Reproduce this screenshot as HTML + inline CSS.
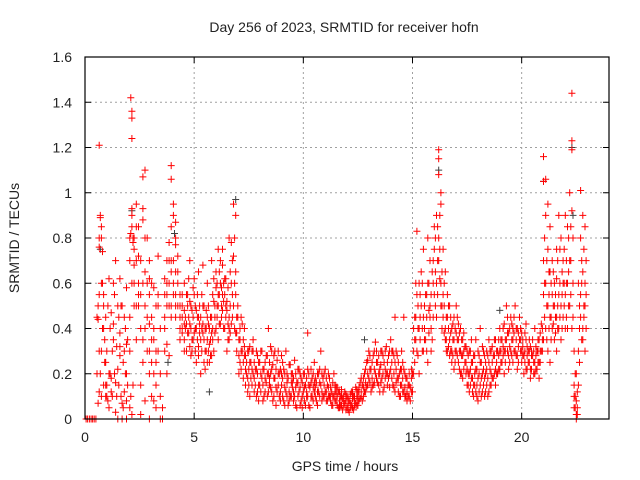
<!DOCTYPE html>
<html><head><meta charset="utf-8"><style>
html,body{margin:0;padding:0;background:#fff;}
svg{display:block;font-family:"Liberation Sans",sans-serif;}
</style></head><body>
<svg id="chart" width="640" height="480" viewBox="0 0 640 480">
<rect width="640" height="480" fill="#fff"/>
<text x="344" y="32" text-anchor="middle" font-size="14" fill="#222">Day 256 of 2023, SRMTID for receiver hofn</text>
<text transform="translate(19,238) rotate(-90)" text-anchor="middle" font-size="14" fill="#222">SRMTID / TECUs</text>
<text x="345" y="471" text-anchor="middle" font-size="14" fill="#222">GPS time / hours</text>
<g id="grid"></g>
<g id="axes"></g>
<g id="grayseries"></g>
<g id="redseries"></g>
<rect x="85" y="57" width="524" height="362" fill="none" stroke="#000" stroke-width="1.2"/>
</svg>
<script>
const xTicks=[0,5,10,15,20];
const yTicks=[0,0.2,0.4,0.6,0.8,1,1.2,1.4,1.6];
const yTickLabels=["0","0.2","0.4","0.6","0.8","1","1.2","1.4","1.6"];
const hours=[0.05,0.12,0.2,0.28,0.35,0.42,0.5,
0.6,0.65,0.7,0.75,0.8,0.85,0.9,0.95,
1.0,1.1,1.2,1.3,1.4,1.5,1.6,1.7,1.8,1.9,
2.05,2.1,2.15,2.2,2.25,
2.35,2.45,2.55,2.65,2.75,2.85,2.95,3.05,3.15,3.25,3.35,3.45,
3.65,3.75,3.85,3.95,4.05,4.15,4.25,4.35,4.45,4.55,
4.6,4.7,4.8,4.9,5.0,5.1,5.2,5.3,5.4,5.5,5.6,5.7,5.8,5.9,6.0,6.1,6.2,6.3,6.4,6.5,6.6,6.7,6.8,6.9,7.0,
7.1,7.2,7.3,7.4,7.5,7.6,7.7,7.8,7.9,
8.0,8.1,8.2,8.3,8.4,8.5,8.6,8.7,8.8,8.9,9.0,9.1,9.2,9.3,9.4,9.5,9.6,9.7,9.8,9.9,
10.0,10.1,10.2,10.3,10.4,10.5,10.6,10.7,10.8,10.9,11.0,11.1,11.2,11.3,11.4,11.5,11.6,11.7,11.8,11.9,
12.0,12.1,12.2,12.3,12.4,12.5,12.6,12.7,12.8,12.9,13.0,13.1,13.2,13.3,13.4,13.5,13.6,13.7,13.8,13.9,
14.0,14.1,14.2,14.3,14.4,14.5,14.6,14.7,14.8,14.9,15.0,
15.1,15.2,15.3,15.4,15.5,15.6,15.7,15.8,15.9,16.0,16.1,16.2,16.3,16.4,16.5,16.6,16.7,16.8,16.9,17.0,17.1,17.2,17.3,17.4,17.5,
17.6,17.7,17.8,17.9,18.0,18.1,18.2,18.3,18.4,18.5,18.6,18.7,18.8,18.9,
19.0,19.1,19.2,19.3,19.4,19.5,19.6,19.7,19.8,19.9,20.0,20.1,20.2,20.3,20.4,20.5,20.6,20.7,20.8,20.9,
21.0,21.1,21.2,21.3,21.4,21.5,21.6,21.7,21.8,21.9,22.0,22.1,22.2,22.3,22.4,22.5,22.6,22.7,22.8,22.9];
const srmtid=[[0],[0],[0],[0],[0],[0],[0],
[0.44,0.5,0.07],[1.21,0.76,0.3,0.12],[0.89,0.9,0.2],[0.85,0.8,0.1],[0.74,0.6,0.4],[0.55,0.5],[0.35,0.25],[0.15,0.45],
[0.3,0.15,0.1],[0.05,0.2,0.62],[0.47,0.18,0.12],[0.6,0.35,0.42],[0.03,0.7,0.16],[0.5,0.22,0.0],[0.62,0.38,0.28,0.32],[0.07,0.0,0.5],[0.3,0.45,0.12],[0.0,0.2,0.58,0.08,0.33],
[0.7,0.05,0.3],[1.42,0.82,0.1],[1.36,1.33,1.24,0.93,0.9,0.02],[0.78,0.8,0.15],[0.75,0.68,0.5],
[0.95,0.85,0.35],[0.72,0.5,0.6],[0.55,0.02,0.15],[1.07,0.93,0.88,0.25],[0.5,0.4,1.1,0.8,0.08],[0.45,0.3,0.6],[0.2,0.62,0.7,0.42,0.0],[0.1,0.25,0.45],[0.58,0.35,0.08],[0.15,0.05,0.3],[0.72,0.5],[0.2,0.0],
[0.62,0.55,0.4],[0.5,0.6,0.33,0.2],[0.7,0.78,0.28],[0.85,1.12,1.06,0.45,0.65],[0.95,0.9,0.55],[0.87,0.77,0.8,0.45,0.5],[0.72,0.65,0.6],[0.55,0.5,0.35],[0.45,0.38,0.55],[0.42,0.3],
[0.4,0.45],[0.38,0.5,0.55],[0.52,0.42,0.32,0.7],[0.35,0.3,0.48],[0.55,0.62,0.38],[0.48,0.4,0.25],[0.32,0.28,0.45,0.65],[0.35,0.45,0.2],[0.5,0.42,0.38,0.68],[0.3,0.22,0.4],[0.25,0.35,0.45,0.6],[0.4,0.33,0.25],[0.28,0.45,0.38,0.7],[0.52,0.62,0.3],[0.58,0.65,0.4],[0.55,0.5,0.35,0.75],[0.6,0.7,0.42],[0.75,0.68,0.48,0.55],[0.62,0.55,0.4],[0.48,0.52,0.3],[0.45,0.4,0.35,0.8],[0.6,0.78,0.42],[0.72,0.95,0.5],[0.9,0.65,0.55,0.38],[0.5,0.45],
[0.4,0.35,0.25],[0.42,0.3],[0.28,0.32,0.4],[0.25,0.2],[0.3,0.22,0.15],[0.18,0.25],[0.2,0.3,0.35],[0.22,0.15],[0.28,0.2,0.12],
[0.25,0.15],[0.3,0.18],[0.22,0.1],[0.28,0.16],[0.2,0.12,0.4],[0.32,0.14,0.2],[0.24,0.08],[0.18,0.3],[0.26,0.12],[0.2,0.1],[0.15,0.28,0.2],[0.22,0.08],[0.12,0.3],[0.18,0.06],[0.24,0.1],[0.14,0.2,0.16],[0.1,0.26],[0.16,0.05],[0.22,0.12],[0.08,0.18],
[0.12,0.2],[0.06,0.15],[0.1,0.22,0.38],[0.14,0.05],[0.18,0.1],[0.12,0.25,0.16],[0.08,0.16],[0.2,0.12],[0.15,0.3],[0.1,0.18],[0.22,0.12],[0.15,0.08],[0.18,0.1],[0.12,0.06],[0.1,0.2],[0.08,0.14,0.12],[0.12,0.05],[0.06,0.1],[0.09,0.04],[0.07,0.12],
[0.05,0.1],[0.08,0.03],[0.06,0.12],[0.1,0.04],[0.07,0.14],[0.12,0.06,0.09],[0.09,0.16],[0.15,0.08],[0.2,0.12],[0.25,0.14],[0.18,0.3],[0.22,0.12],[0.28,0.15],[0.2,0.34],[0.16,0.25],[0.22,0.12,0.2],[0.3,0.18],[0.25,0.14],[0.2,0.32],[0.28,0.18],
[0.22,0.35],[0.3,0.15],[0.25,0.12,0.45],[0.18,0.28],[0.2,0.1],[0.15,0.3,0.22],[0.12,0.22,0.45],[0.18,0.1],[0.1,0.15],[0.14,0.08],[0.12,0.2],
[0.25,0.35,0.45],[0.55,0.3,0.83],[0.6,0.2,0.4],[0.65,0.5],[0.3,0.45,0.75],[0.55,0.35],[0.6,0.8,0.25],[0.5,0.45,0.7],[0.65,0.35],[0.75,0.85,0.55],[0.9,0.6,0.45],[1.19,1.15,1.08,0.8,0.7],[1.0,0.95,0.5,0.6],[0.75,0.55,0.45],[0.65,0.4,0.35],[0.45,0.3,0.55],[0.35,0.5,0.28],[0.4,0.3,0.25],[0.45,0.35,0.22],[0.38,0.3,0.5],[0.35,0.25,0.42],[0.3,0.4,0.2],[0.28,0.35,0.18],[0.25,0.32],[0.22,0.3,0.15],
[0.2,0.3,0.12],[0.35,0.18,0.25],[0.15,0.28,0.1],[0.22,0.35,0.12],[0.3,0.18,0.08],[0.25,0.15,0.4],[0.12,0.2,0.32],[0.18,0.1,0.28],[0.3,0.15,0.22],[0.25,0.12,0.35],[0.2,0.3,0.15],[0.28,0.18],[0.35,0.22,0.15],[0.3,0.2],
[0.3,0.4,0.22],[0.35,0.25],[0.42,0.3,0.2],[0.5,0.35],[0.28,0.38,0.22],[0.45,0.3],[0.35,0.25,0.4],[0.3,0.5],[0.4,0.28,0.22],[0.35,0.45],[0.3,0.38,0.25],[0.28,0.2],[0.35,0.42,0.22],[0.3,0.25],[0.22,0.32,0.18],[0.28,0.35],[0.25,0.2,0.4],[0.3,0.22],[0.35,0.25,0.18],[0.42,0.3],
[1.16,1.05,0.55,0.35,0.7],[1.06,0.9,0.4,0.6],[0.95,0.5,0.3,0.75],[0.65,0.45,0.25,0.85],[0.55,0.4,0.7],[0.6,0.35,0.5],[0.75,0.45,0.3,0.62],[0.55,0.4,0.9],[0.8,0.5,0.35],[0.7,0.45,0.6],[0.9,0.55,0.4],[0.6,0.4,0.85],[1.0,0.7,0.5],[1.44,1.23,1.19,0.92,0.4],[0.3,0.15,0.1,0.05],[0.2,0.0,0.08,0.02],[0.15,0.3,0.6],[0.8,1.01,0.45,0.55],[0.9,0.65,0.4,0.35],[0.6,0.5,0.85,0.3]];
const hoursExtra=[0.55,0.65,0.75,0.85,0.95,1.05,1.15,1.25,1.35,1.45,1.55,1.65,1.75,1.85,1.95,2.05,2.15,2.25,2.35,2.45,2.55,2.65,2.75,2.85,2.95,3.05,3.15,3.25,3.35,3.45,3.55,3.65,3.75,3.85,3.95,
4.05,4.15,4.25,4.35,4.45,
4.55,4.65,4.75,4.85,4.95,5.05,5.15,5.25,5.35,5.45,5.55,5.65,5.75,5.85,5.95,6.05,6.15,6.25,6.35,6.45,6.55,6.65,6.75,6.85,6.95,
7.05,7.15,7.25,7.35,7.45,7.55,7.65,7.75,7.85,7.95,
8.05,8.15,8.25,8.35,8.45,8.55,8.65,8.75,8.85,8.95,9.05,9.15,9.25,9.35,9.45,9.55,9.65,9.75,9.85,9.95,
10.05,10.15,10.25,10.35,10.45,10.55,10.65,10.75,10.85,10.95,11.05,11.15,11.25,11.35,11.45,11.55,11.65,11.75,11.85,11.95,
12.05,12.15,12.25,12.35,12.45,12.55,12.65,12.75,12.85,12.95,13.05,13.15,13.25,13.35,13.45,13.55,13.65,13.75,13.85,13.95,
14.05,14.15,14.25,14.35,14.45,14.55,14.65,14.75,14.85,14.95,
15.05,15.15,15.25,15.35,15.45,15.55,15.65,15.75,15.85,15.95,16.05,16.15,16.25,16.35,16.45,16.55,16.65,16.75,16.85,16.95,17.05,17.15,17.25,17.35,17.45,
17.55,17.65,17.75,17.85,17.95,18.05,18.15,18.25,18.35,18.45,18.55,18.65,18.75,18.85,18.95,
19.05,19.15,19.25,19.35,19.45,19.55,19.65,19.75,19.85,19.95,20.05,20.15,20.25,20.35,20.45,20.55,20.65,20.75,20.85,20.95,
21.05,21.15,21.25,21.35,21.45,21.55,21.65,21.75,21.85,21.95,22.05,22.15,22.25,22.35,22.45,22.55,22.65,22.75,22.85,22.95];
const srmtidExtra=[[0.45,0.2],[0.8,0.55],[0.6,0.3],[0.4,0.15],[0.25,0.1],[0.5,0.08],[0.2,0.4],[0.1,0.3],[0.2,0.55],[0.32,0.1],[0.45,0.15],[0.5,0.1],[0.25,0.05],[0.4,0.2],[0.35,0.15],[0.8,0.45],[0.85,0.6],[0.6,0.8],[0.5,0.7],[0.55,0.85],[0.4,0.7],[0.6,0.35],[0.5,0.65],[0.45,0.8],[0.55,0.3],[0.35,0.6],[0.4,0.2],[0.5,0.25],[0.3,0.55],[0.4,0.1],[0.0,0.05],[0.45,0.3],[0.55,0.7],[0.6,0.5],[0.7,0.5],
[0.7,0.6],[0.65,0.55],[0.5,0.6],[0.45,0.4],[0.4,0.5],
[0.35,0.48,0.6],[0.42,0.3,0.55],[0.45,0.38,0.62],[0.4,0.5,0.28],[0.45,0.35,0.58],[0.4,0.5,0.3],[0.35,0.55,0.45],[0.38,0.5,0.42],[0.3,0.4,0.55],[0.35,0.25,0.5],[0.4,0.3,0.48],[0.3,0.42,0.5],[0.35,0.45,0.28],[0.4,0.35,0.55],[0.45,0.38,0.5],[0.5,0.45,0.6],[0.55,0.42,0.65],[0.5,0.58,0.45],[0.6,0.52,0.4],[0.5,0.45,0.62],[0.42,0.58,0.35],[0.5,0.38,0.65],[0.45,0.55,0.7],[0.6,0.4,0.8],[0.45,0.38,0.3],
[0.35,0.28,0.2],[0.3,0.22,0.45],[0.25,0.35,0.18],[0.22,0.28,0.15],[0.3,0.18,0.12],[0.25,0.32,0.1],[0.15,0.22,0.3],[0.18,0.25,0.12],[0.22,0.3,0.1],[0.15,0.25,0.08],
[0.2,0.12,0.3],[0.22,0.15,0.08],[0.18,0.25,0.12],[0.2,0.1,0.28],[0.15,0.25,0.18],[0.22,0.12,0.3],[0.18,0.28,0.1],[0.14,0.22,0.06],[0.2,0.15,0.3],[0.12,0.22,0.08],[0.18,0.1,0.25],[0.14,0.2,0.06],[0.2,0.1,0.16],[0.12,0.24,0.08],[0.16,0.1,0.2],[0.08,0.18,0.12],[0.14,0.2,0.06],[0.1,0.16,0.22],[0.14,0.06,0.2],[0.1,0.16,0.05],
[0.14,0.08,0.2],[0.1,0.18,0.12],[0.15,0.06,0.2],[0.1,0.16,0.22],[0.14,0.08,0.2],[0.18,0.1,0.14],[0.12,0.2,0.06],[0.16,0.1,0.22],[0.12,0.2,0.08],[0.15,0.1,0.2],[0.12,0.18,0.08],[0.14,0.1,0.2],[0.08,0.14,0.1],[0.1,0.16,0.06],[0.12,0.08,0.15],[0.06,0.1,0.14],[0.08,0.12,0.05],[0.1,0.06,0.13],[0.06,0.1,0.08],[0.08,0.04,0.11],
[0.06,0.09,0.04],[0.07,0.11,0.05],[0.09,0.05,0.12],[0.06,0.1,0.08],[0.1,0.06,0.13],[0.08,0.12,0.14],[0.12,0.1,0.18],[0.14,0.18,0.1],[0.16,0.22,0.12],[0.2,0.15,0.26],[0.22,0.16,0.28],[0.18,0.25,0.14],[0.22,0.3,0.16],[0.25,0.18,0.3],[0.2,0.28,0.15],[0.24,0.16,0.3],[0.2,0.28,0.12],[0.22,0.18,0.3],[0.25,0.15,0.2],[0.2,0.3,0.14],
[0.25,0.18,0.3],[0.2,0.28,0.14],[0.22,0.16,0.3],[0.18,0.25,0.12],[0.15,0.22,0.1],[0.18,0.12,0.25],[0.14,0.2,0.1],[0.12,0.18,0.08],[0.15,0.1,0.2],[0.12,0.18,0.22],
[0.3,0.4,0.2],[0.45,0.35,0.6],[0.4,0.5,0.28],[0.35,0.55,0.45],[0.4,0.3,0.6],[0.5,0.4,0.35],[0.45,0.55,0.3],[0.38,0.48,0.6],[0.55,0.4,0.3],[0.6,0.45,0.7],[0.65,0.8,0.5],[0.85,0.7,0.55],[0.9,0.75,0.62],[0.65,0.5,0.4],[0.5,0.38,0.6],[0.45,0.35,0.3],[0.4,0.32,0.5],[0.38,0.3,0.45],[0.35,0.28,0.42],[0.3,0.4,0.25],[0.35,0.28,0.45],[0.3,0.38,0.22],[0.28,0.35,0.2],[0.3,0.22,0.38],[0.25,0.2,0.32],
[0.2,0.28,0.15],[0.22,0.15,0.3],[0.18,0.25,0.12],[0.2,0.15,0.28],[0.15,0.22,0.1],[0.2,0.12,0.28],[0.18,0.1,0.25],[0.15,0.22,0.3],[0.2,0.12,0.25],[0.18,0.28,0.1],[0.22,0.15,0.3],[0.25,0.18,0.32],[0.2,0.28,0.35],[0.25,0.3,0.2],[0.28,0.35,0.22],
[0.3,0.35,0.25],[0.32,0.4,0.28],[0.35,0.3,0.25],[0.38,0.3,0.45],[0.32,0.4,0.25],[0.35,0.28,0.42],[0.3,0.38,0.45],[0.35,0.28,0.4],[0.32,0.38,0.25],[0.3,0.4,0.35],[0.28,0.35,0.32],[0.3,0.25,0.38],[0.28,0.32,0.22],[0.25,0.3,0.35],[0.28,0.22,0.3],[0.25,0.3,0.2],[0.28,0.22,0.32],[0.25,0.3,0.35],[0.3,0.38,0.25],[0.35,0.4,0.3],
[0.45,0.6,0.8],[0.5,0.7,0.35],[0.55,0.4,0.65],[0.45,0.6,0.35],[0.5,0.65,0.42],[0.45,0.55,0.38],[0.5,0.7,0.4],[0.6,0.45,0.75],[0.55,0.65,0.4],[0.5,0.75,0.6],[0.6,0.45,0.7],[0.5,0.65,0.8],[0.7,0.55,0.85],[0.6,0.45,0.8],[0.2,0.1,0.05],[0.05,0.12,0.02],[0.4,0.5,0.25],[0.6,0.7,0.35],[0.5,0.75,0.45],[0.55,0.4,0.7]];
const grayHours=[0.7,2.15,3.8,4.1,5.7,6.9,12.8,16.2,19.0,21.0,22.3,22.35];
const graySrmtid=[0.75,0.92,0.25,0.82,0.12,0.97,0.35,1.1,0.48,1.05,1.2,0.9];

const X0=85,X1=609,Y0=419,Y1=57,XMAX=24,YMAX=1.6;
function sx(h){return X0+(X1-X0)*h/XMAX;}
function sy(v){return Y0-(Y0-Y1)*v/YMAX;}
const NS="http://www.w3.org/2000/svg";
function mk(tag,attrs,parent){const e=document.createElementNS(NS,tag);for(const k in attrs)e.setAttribute(k,attrs[k]);parent.appendChild(e);return e;}
const grid=document.getElementById('grid'),axes=document.getElementById('axes');
yTicks.forEach((t,i)=>{
  const y=sy(t);
  if(t>0&&t<YMAX){const g=mk('line',{x1:X0,x2:X1,y1:y,y2:y,stroke:'#a0a0a0','stroke-dasharray':'2,3','stroke-width':1},grid);
  
  }
  const tk=mk('path',{d:`M${X0},${y}h6M${X1},${y}h-6`,stroke:'#000','stroke-width':1},axes);
  
  
  const lb=mk('text',{x:X0-13,y:y+5,'text-anchor':'end','font-size':14,fill:'#222'},axes);
  lb.textContent=yTickLabels[i];
  
  
});
xTicks.forEach(t=>{
  const x=sx(t);
  if(t>0){const g=mk('line',{x1:x,x2:x,y1:Y0,y2:Y1,stroke:'#a0a0a0','stroke-dasharray':'2,3','stroke-width':1},grid);
  
  }
  const tk=mk('path',{d:`M${x},${Y0}v-6M${x},${Y1}v6`,stroke:'#000','stroke-width':1},axes);
  
  
  const lb=mk('text',{x:x,y:Y0+23,'text-anchor':'middle','font-size':14,fill:'#222'},axes);
  lb.textContent=String(t);
  
  
});
function plus(x,y){return `M${(x-3.5).toFixed(1)},${y.toFixed(1)}h7M${x.toFixed(1)},${(y-3.5).toFixed(1)}v7`;}
let gd='';
grayHours.forEach((h,i)=>{gd+=plus(sx(h),sy(graySrmtid[i]));});
const gp=mk('path',{d:gd,stroke:'#404040','stroke-width':1,fill:'none'},document.getElementById('grayseries'));


let rd='';
hours.forEach((h,i)=>{(srmtid[i]||[]).forEach(v=>{rd+=plus(sx(h),sy(v));});});
hoursExtra.forEach((h,i)=>{(srmtidExtra[i]||[]).forEach(v=>{rd+=plus(sx(h),sy(v));});});
const rp=mk('path',{d:rd,stroke:'#ff0000','stroke-width':1,fill:'none'},document.getElementById('redseries'));


</script>
</body></html>
